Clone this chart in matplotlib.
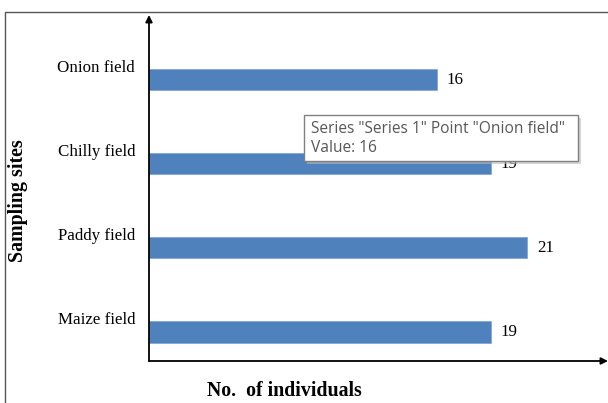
import matplotlib
matplotlib.use("Agg")
import matplotlib.pyplot as plt
from matplotlib.patches import Rectangle
from matplotlib.lines import Line2D

# data
sites = ["Maize field", "Paddy field", "Chilly field", "Onion field"]
individuals = [19, 21, 19, 16]
tooltip_lines = ['Series "Series 1" Point "Onion field"', "Value: 16"]

W, H = 608, 403
fig = plt.figure(figsize=(W / 100, H / 100), dpi=100)
fig.patch.set_facecolor("white")

# outer frame (left and top edges visible)
fig.add_artist(Line2D([5 / W, 5 / W, 1.0], [0.0, 1 - 12 / H, 1 - 12 / H],
                      transform=fig.transFigure, color="#555555", lw=1.0))

left, right, top, bottom = 149, 608, 15, 361
ax = fig.add_axes([left / W, 1 - bottom / H, (right - left) / W, (bottom - top) / H])
ax.set_facecolor("none")

pos = range(len(sites))
ax.barh(pos, individuals, height=0.25, color="#4f81bd", edgecolor="#7aa3d6", lw=0.5)
ax.set_xlim(0, 25.5)
ax.set_ylim(-0.345, 3.77)

for s in ax.spines.values():
    s.set_visible(False)
ax.set_xticks([])
ax.set_yticks([])

serif = "Liberation Serif"

# axis arrows
ax.annotate("", xy=(0, 1.0), xytext=(0, 0), xycoords="axes fraction",
            arrowprops=dict(arrowstyle="-|>", color="black", lw=1.3,
                            mutation_scale=10, shrinkA=0, shrinkB=0))
ax.annotate("", xy=(1.0, 0), xytext=(0, 0), xycoords="axes fraction",
            arrowprops=dict(arrowstyle="-|>", color="black", lw=1.3,
                            mutation_scale=10, shrinkA=0, shrinkB=0))

# category labels sit above each bar, left of the axis
for i, name in enumerate(sites):
    ax.annotate(name, xy=(0, i), xytext=(-14, 12), textcoords="offset pixels",
                ha="right", va="center", fontsize=12.2, family=serif)

# value labels
for i, v in enumerate(individuals):
    ax.annotate(str(v), xy=(v, i), xytext=(10, 0), textcoords="offset pixels",
                ha="left", va="center", fontsize=12.2, family=serif)

fig.text(18 / W, 1 - 201 / H, "Sampling sites", rotation=90, ha="center", va="center",
         fontsize=14.4, fontweight="bold", family=serif)
fig.text(284 / W, 1 - 391 / H, "No.  of individuals", ha="center", va="center",
         fontsize=14.3, fontweight="bold", family=serif)

# tooltip box with shadow
bx, by, bw, bh = 304, 115, 274, 46
fig.add_artist(Rectangle(((bx + 3) / W, 1 - (by + bh + 3) / H), bw / W, bh / H,
                         transform=fig.transFigure, facecolor="#bbbbbb", edgecolor="none",
                         alpha=0.6, zorder=5))
fig.add_artist(Rectangle((bx / W, 1 - (by + bh) / H), bw / W, bh / H,
                         transform=fig.transFigure, facecolor="white", edgecolor="#808080",
                         lw=1.0, zorder=6))
for k, line in enumerate(tooltip_lines):
    fig.text((bx + 7) / W, 1 - (by + 14 + k * 19) / H, line, ha="left", va="center",
             fontsize=11.2, color="#575757", family="Open Sans", zorder=7)

fig.savefig("out.png", dpi=100)
